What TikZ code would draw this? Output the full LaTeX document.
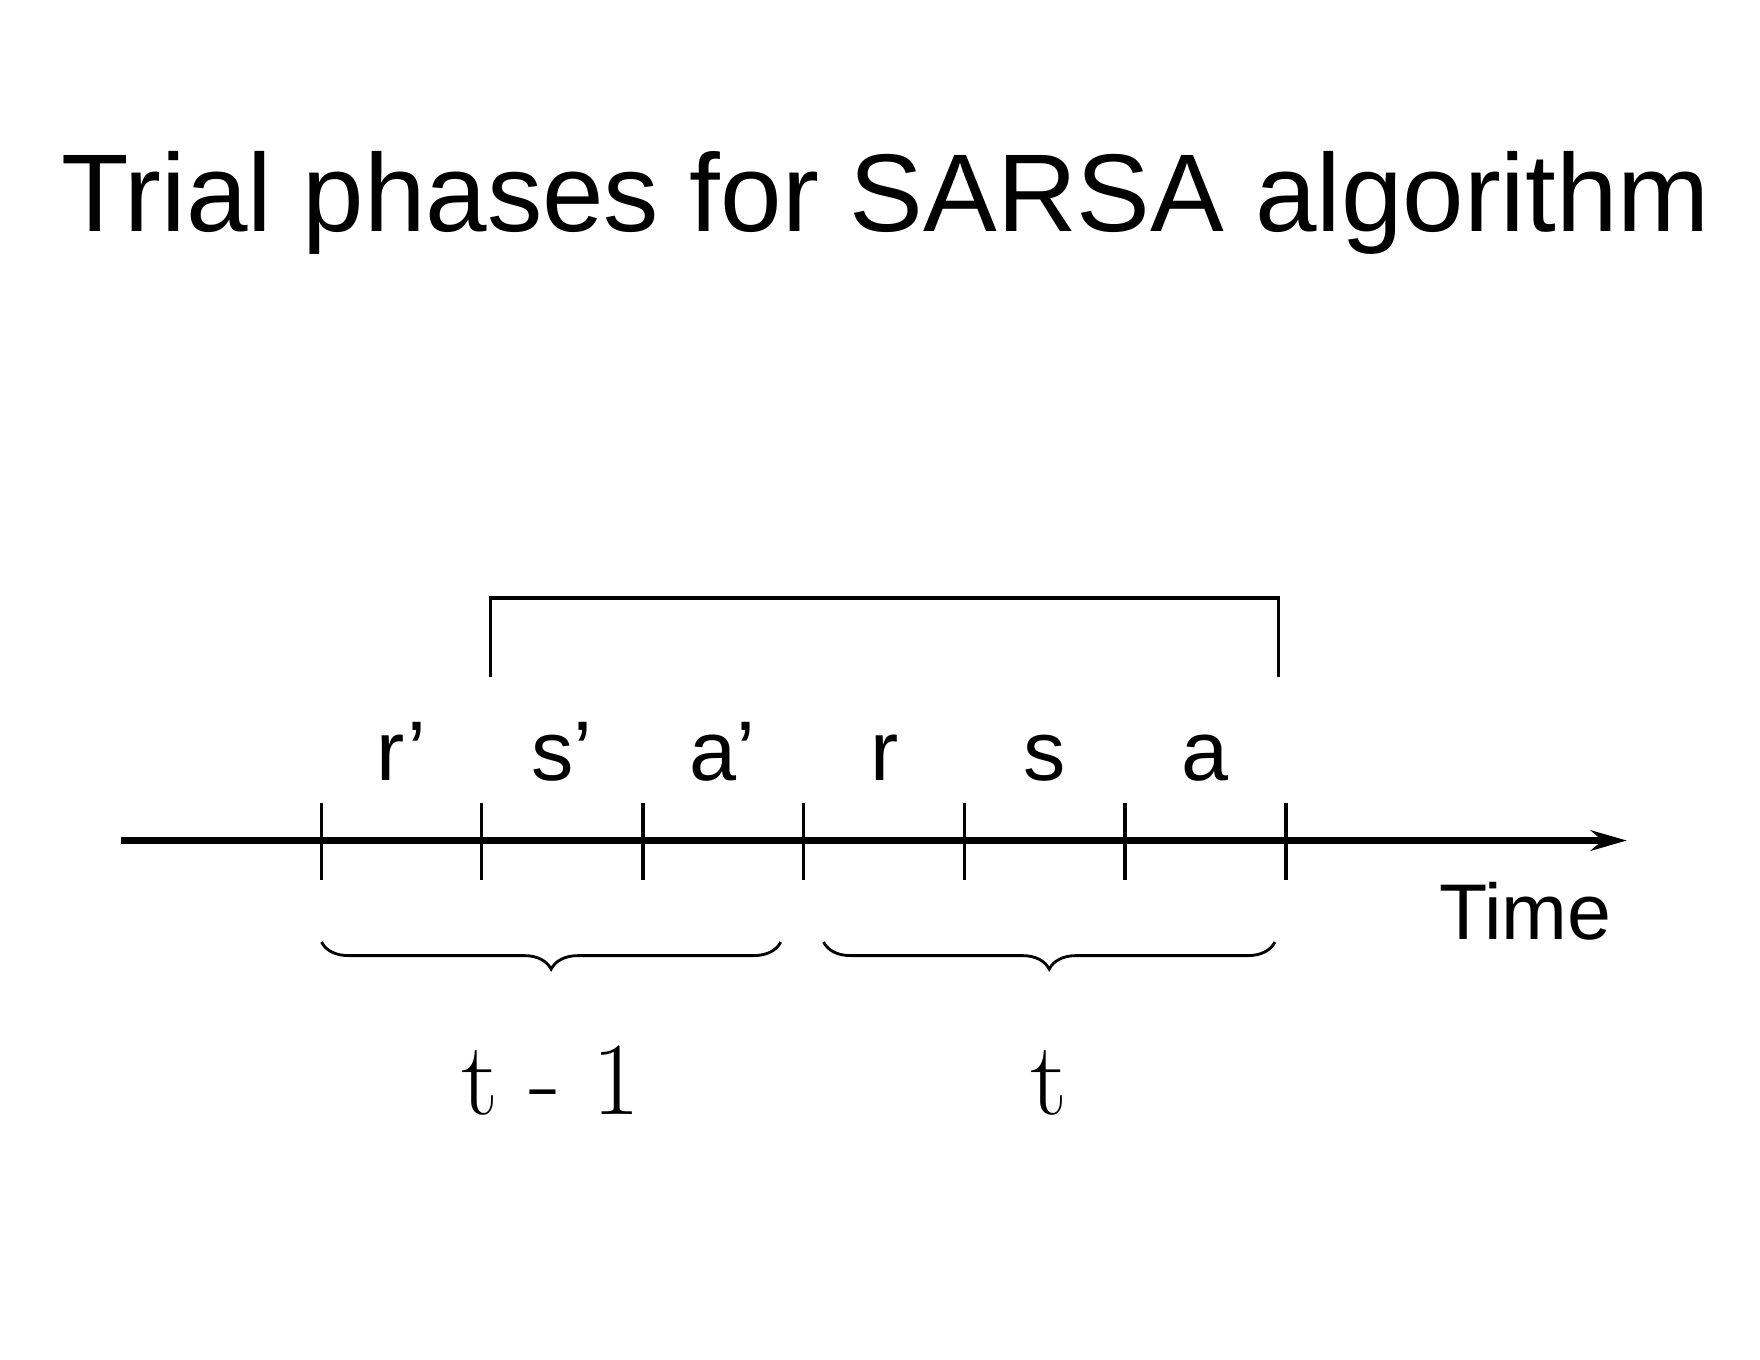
\documentclass[tikz,border=0pt]{standalone}
\usepackage{fontspec}
\setmainfont{Liberation Sans}
\newfontfamily\serifm{Latin Modern Roman}
\usetikzlibrary{decorations.pathreplacing,arrows.meta}
\tikzset{tick/.style={line width=3pt},lab/.style={font=\fontsize{75}{75}\selectfont, anchor=base}}
\begin{document}
\begin{tikzpicture}[x=1pt,y=-1pt]
\useasboundingbox (0,0) rectangle (1560,1205);
\node[font=\fontsize{98}{98}\selectfont] (title) at (785,180) {Trial phases for SARSA algorithm};
\coordinate (s) at (107,745); \coordinate (e) at (1442,745);
\draw[line width=6pt,-{Stealth[length=32pt,width=18pt]}] (s) -- (e);
\foreach \x/\n in {285/0,427/1,570/2,712/3,855/4,997/5,1140/6}{
  \draw[tick] (\x,712) coordinate (t\n) -- (\x,780);}
\foreach \x/\t/\n in {356/r'/l1,498/s'/l2,640/a'/l3,784/r/l4,926/s/l5,1068/a/l6}{
  \node[lab] (\n) at (\x,692) {\t};}
\draw[line width=3pt] (435,600) coordinate (b1) -- (435,530) -- (1133,530) -- (1133,600) coordinate (b2);
\draw[line width=2.5pt,decorate,decoration={brace,mirror,amplitude=24pt}] (285,835) -- (692,835);
\draw[line width=2.5pt,decorate,decoration={brace,mirror,amplitude=24pt}] (730,835) -- (1130,835);
\node[font=\serifm\fontsize{92}{92}\selectfont,anchor=base] (tm1) at (488,988) {t - 1};
\node[font=\serifm\fontsize{92}{92}\selectfont,anchor=base] (tt) at (930,988) {t};
\node[font=\fontsize{70}{70}\selectfont,anchor=base] (time) at (1352,833) {Time};
\end{tikzpicture}
\end{document}
